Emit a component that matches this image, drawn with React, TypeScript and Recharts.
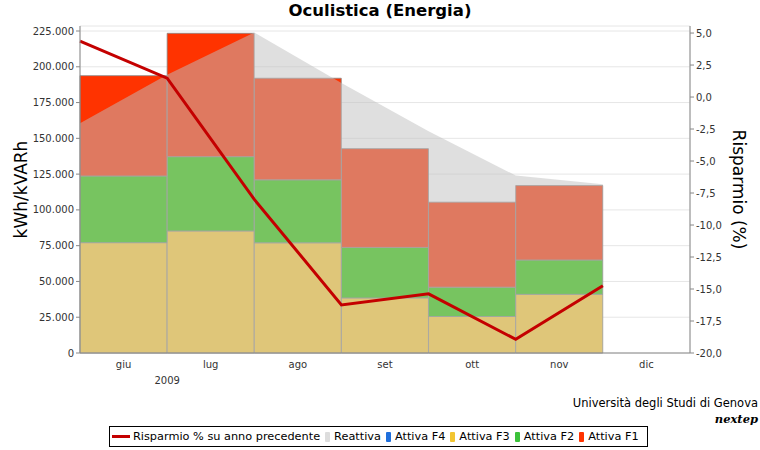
import React from 'react';
import { ComposedChart, Bar, Area, Line, XAxis, YAxis, CartesianGrid } from 'recharts';

const months = ['giu', 'lug', 'ago', 'set', 'ott', 'nov', 'dic'];
const attivaF1 = [70100, 86200, 71000, 69000, 59400, 52000, 0];
const attivaF2 = [46600, 51900, 44000, 35300, 20500, 24000, 0];
const attivaF3 = [77100, 85300, 77000, 38500, 25500, 41000, 0];
const attivaF4 = [0, 0, 0, 0, 0, 0, 0];
// reattiva and risparmio are read at the left edge of each month
const reattiva = [160500, 194500, 224000, 188700, 155000, 124000, 118000];
const risparmio = [4.37, 1.47, -8.0, -16.24, -15.38, -18.93, -14.75];

const leftTicks = [0, 25000, 50000, 75000, 100000, 125000, 150000, 175000, 200000, 225000];
const rightTicks = [-20, -17.5, -15, -12.5, -10, -7.5, -5, -2.5, 0, 2.5, 5];
const edgeTicks = [0, 1, 2, 3, 4, 5, 6, 7];

const legendItems = [
  { name: 'Risparmio % su anno precedente', color: '#c40000', line: true },
  { name: 'Reattiva', color: '#dddddd' },
  { name: 'Attiva F4', color: '#1f6fdc' },
  { name: 'Attiva F3', color: '#f2c531' },
  { name: 'Attiva F2', color: '#3cc23a' },
  { name: 'Attiva F1', color: '#ff3300' },
];

const rows = months.map((m, i) => ({
  month: m,
  pos: i,
  f1: attivaF1[i],
  f2: attivaF2[i],
  f3: attivaF3[i],
  f4: attivaF4[i],
  reattiva: reattiva[i],
  risparmio: risparmio[i],
}));

const W = 760;
const H = 450;
const LEFT_W = 80;
const RIGHT_W = 70;
const FONT = '"DejaVu Sans", sans-serif';

const fmtLeft = (v: number) => String(v).replace(/\B(?=(\d{3})+(?!\d))/g, '.');
const fmtRight = (v: number) => v.toFixed(1).replace('.', ',');

const halfBand = (W - LEFT_W - RIGHT_W) / months.length / 2;

const MonthTick = (props: any) => {
  const { x, y, payload, index } = props;
  return (
    <g>
      <text x={x} y={y} dy="0.71em" textAnchor="middle" fontSize={10} fill="#333" fontFamily={FONT}>
        {payload.value}
      </text>
      {index === 0 && (
        <text x={x + halfBand} y={y + 16} dy="0.71em" textAnchor="middle" fontSize={10} fill="#333" fontFamily={FONT}>
          2009
        </text>
      )}
    </g>
  );
};

const tickStyle = { fontSize: 10, fill: '#333', fontFamily: FONT };

export default function App() {
  return (
    <div style={{ position: 'relative', width: W, height: H, background: '#fff', fontFamily: FONT }}>
      <style>{'body{margin:0}'}</style>
      <div style={{ position: 'absolute', top: 1, left: 0, width: W, textAlign: 'center', fontSize: 16.5, fontWeight: 'bold', color: '#000', zIndex: 2 }}>
        Oculistica (Energia)
      </div>
      <ComposedChart
        width={W}
        height={H}
        data={rows}
        margin={{ top: 26, right: 0, bottom: 67, left: 0 }}
        barCategoryGap={0}
        barGap={0}
      >
        <CartesianGrid xAxisId="edge" yAxisId="left" stroke="#e6e6e6" />
        <XAxis
          xAxisId="cat"
          dataKey="month"
          height={30}
          tickLine={false}
          tickSize={4}
          tickMargin={4}
          axisLine={{ stroke: '#888' }}
          tick={<MonthTick />}
          interval={0}
        />
        <XAxis
          xAxisId="edge"
          dataKey="pos"
          type="number"
          domain={[0, 7]}
          ticks={edgeTicks}
          orientation="top"
          height={0}
          tick={false}
          tickLine={false}
          axisLine={{ stroke: '#aaa' }}
        />
        <YAxis
          yAxisId="left"
          width={LEFT_W}
          domain={[0, 228500]}
          ticks={leftTicks}
          tickFormatter={fmtLeft}
          tick={tickStyle}
          tickSize={4}
          tickMargin={2}
          axisLine={{ stroke: '#888' }}
          tickLine={{ stroke: '#888' }}
          label={{ value: 'kWh/kVARh', angle: -90, position: 'insideLeft', offset: 21, style: { textAnchor: 'middle', fontSize: 17, fill: '#000', fontFamily: FONT } }}
        />
        <YAxis
          yAxisId="right"
          orientation="right"
          width={RIGHT_W}
          domain={[-20, 5.55]}
          ticks={rightTicks}
          tickFormatter={fmtRight}
          tick={tickStyle}
          tickSize={4}
          tickMargin={2}
          axisLine={{ stroke: '#888' }}
          tickLine={{ stroke: '#888' }}
          label={{ value: 'Risparmio (%)', angle: 90, position: 'insideRight', offset: 21, style: { textAnchor: 'middle', fontSize: 17, fill: '#000', fontFamily: FONT } }}
        />
        <Bar xAxisId="cat" yAxisId="left" dataKey="f4" stackId="a" fill="#1f6fdc" stroke="#888" strokeWidth={0.8} isAnimationActive={false} />
        <Bar xAxisId="cat" yAxisId="left" dataKey="f3" stackId="a" fill="#ffcc33" stroke="#888" strokeWidth={0.8} isAnimationActive={false} />
        <Bar xAxisId="cat" yAxisId="left" dataKey="f2" stackId="a" fill="#2ec800" stroke="#888" strokeWidth={0.8} isAnimationActive={false} />
        <Bar xAxisId="cat" yAxisId="left" dataKey="f1" stackId="a" fill="#ff3300" stroke="#888" strokeWidth={0.8} isAnimationActive={false} />
        <Area
          xAxisId="edge"
          yAxisId="left"
          dataKey="reattiva"
          type="linear"
          fill="#c0c0c0"
          fillOpacity={0.5}
          stroke="none"
          isAnimationActive={false}
          {...({ zIndex: 350 } as any)}
        />
        <Line
          xAxisId="edge"
          yAxisId="right"
          dataKey="risparmio"
          type="linear"
          stroke="#c40000"
          strokeWidth={3}
          dot={false}
          isAnimationActive={false}
          {...({ zIndex: 450 } as any)}
        />
      </ComposedChart>
      <div style={{ position: 'absolute', right: 2, top: 395, fontSize: 11.5, color: '#000', textAlign: 'right', lineHeight: '16px' }}>
        <div>Università degli Studi di Genova</div>
        <div style={{ fontFamily: '"DejaVu Serif", serif', fontWeight: 'bold', fontStyle: 'italic' }}>nextep</div>
      </div>
      <div
        style={{
          position: 'absolute',
          left: 109,
          top: 426,
          height: 19,
          border: '1px solid #000',
          display: 'flex',
          alignItems: 'center',
          padding: '0 3px 0 2px',
          fontSize: 11.3,
          color: '#000',
          whiteSpace: 'nowrap',
        }}
      >
        {legendItems.map((it) => (
          <div key={it.name} style={{ display: 'flex', alignItems: 'center', marginRight: 5 }}>
            {it.line ? (
              <span style={{ display: 'inline-block', width: 18, height: 3, background: it.color, marginRight: 3 }} />
            ) : (
              <span style={{ display: 'inline-block', width: 5, height: 10, background: it.color, marginRight: 4, borderRadius: 1 }} />
            )}
            <span>{it.name}</span>
          </div>
        ))}
      </div>
    </div>
  );
}
